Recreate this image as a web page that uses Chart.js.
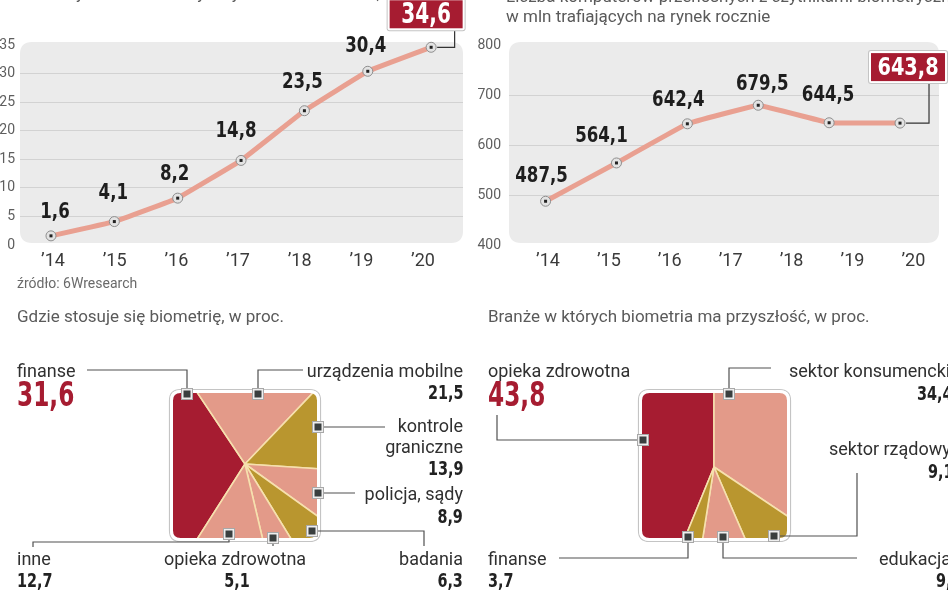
<!DOCTYPE html>
<html><head><meta charset="utf-8">
<script src="https://cdn.jsdelivr.net/npm/chart.js@4.4.0/dist/chart.umd.min.js"></script>
<style>
html,body{margin:0;padding:0;background:#fff;}
body{width:948px;height:593px;position:relative;overflow:hidden;font-family:Roboto,'Open Sans',sans-serif;}
canvas{position:absolute;}
.t{position:absolute;white-space:nowrap;line-height:19px;}
.title{font:400 17px Roboto,sans-serif;color:#5a5a5a;}
.src{font:400 14px Roboto,sans-serif;color:#6a6a6a;}
.name{font:400 18px Roboto,sans-serif;color:#303030;}
.num{font:bold 20px 'DejaVu Sans Condensed','DejaVu Sans',sans-serif;color:#222;line-height:24px;}
.big{font:bold 34px 'DejaVu Sans Condensed','DejaVu Sans',sans-serif;color:#a61c31;line-height:38px;}
</style></head><body>
<canvas id="c1" width="474" height="300" style="left:0;top:0;width:474px;height:300px"></canvas>
<canvas id="c2" width="474" height="300" style="left:474px;top:0;width:474px;height:300px"></canvas>
<canvas id="c3" width="474" height="293" style="left:0;top:300px;width:474px;height:293px"></canvas>
<canvas id="c4" width="474" height="293" style="left:474px;top:300px;width:474px;height:293px"></canvas>
<script>
// ---------- DATA ----------
const years = ['\u201914','\u201915','\u201916','\u201917','\u201918','\u201919','\u201920'];
const unitsSold = [1.6, 4.1, 8.2, 14.8, 23.5, 30.4, 34.6];
const unitsTicks = [0, 5, 10, 15, 20, 25, 30, 35];
const devicesShipped = [487.5, 564.1, 642.4, 679.5, 644.5, 643.8];
const devicesTicks = [400, 500, 600, 700, 800];

const useLabels = ['finanse', 'urządzenia mobilne', 'kontrole graniczne', 'policja, sądy', 'badania', 'opieka zdrowotna', 'inne'];
const useValues = [31.6, 21.5, 13.9, 8.9, 6.3, 5.1, 12.7];
const futureLabels = ['opieka zdrowotna', 'sektor konsumencki', 'sektor rządowy', 'edukacja', 'finanse'];
const futureValues = [43.8, 34.4, 9.1, 9.0, 3.7];

// ---------- STYLE ----------
const NARROW = "'DejaVu Sans Condensed','DejaVu Sans',sans-serif";
const RED = '#a61c31', SALMON = '#e39a89', GOLD = '#b9962f', CREAM = '#f6e0ae';
const useColors = [RED, SALMON, GOLD, SALMON, GOLD, SALMON, SALMON];
const futureColors = [RED, SALMON, GOLD, SALMON, GOLD];
const fmt = v => v.toFixed(1).replace('.', ',');

function rr(ctx, x, y, w, h, r) {
  ctx.beginPath();
  ctx.moveTo(x + r, y);
  ctx.lineTo(x + w - r, y); ctx.quadraticCurveTo(x + w, y, x + w, y + r);
  ctx.lineTo(x + w, y + h - r); ctx.quadraticCurveTo(x + w, y + h, x + w - r, y + h);
  ctx.lineTo(x + r, y + h); ctx.quadraticCurveTo(x, y + h, x, y + h - r);
  ctx.lineTo(x, y + r); ctx.quadraticCurveTo(x, y, x + r, y);
  ctx.closePath();
}
function narrowText(ctx, txt, x, y, sx) {
  ctx.save(); ctx.translate(x, y); ctx.scale(sx, 1); ctx.fillText(txt, 0, 0); ctx.restore();
}

// ---------- PLUGINS ----------
const panelBg = {
  id: 'panelBg',
  beforeDraw(chart) {
    const {ctx, chartArea: a} = chart;
    ctx.save();
    ctx.fillStyle = '#ebebeb';
    rr(ctx, a.left, a.top - 3, a.right - a.left, a.bottom - a.top + 1, 12);
    ctx.fill();
    ctx.restore();
  }
};

const pointLabels = {
  id: 'pointLabels',
  afterDatasetsDraw(chart, args, o) {
    const ctx = chart.ctx;
    const meta = chart.getDatasetMeta(0);
    const vals = chart.data.datasets[0].data;
    const n = meta.data.length;
    ctx.save();
    meta.data.forEach(p => { ctx.fillStyle = '#222'; ctx.fillRect(p.x - 1.5, p.y - 1.5, 3, 3); });
    ctx.font = 'bold 21px ' + NARROW;
    ctx.textAlign = 'center'; ctx.textBaseline = 'middle'; ctx.fillStyle = '#1e1e1e';
    for (let i = 0; i < n - 1; i++) {
      const p = meta.data[i]; const d = o.nudge[i];
      narrowText(ctx, fmt(vals[i].y), p.x + d[0], p.y + d[1], 0.88);
    }
    const p = meta.data[n - 1];
    const b = o.box; // [dx, dy, w, h, leadInset, fontSize, scaleX]
    const cx = p.x + b[0], cy = p.y + b[1], w = b[2], h = b[3];
    const lx = cx + w / 2 - b[4];
    ctx.strokeStyle = '#333'; ctx.lineWidth = 1.2;
    ctx.beginPath(); ctx.moveTo(lx, cy + h / 2); ctx.lineTo(lx, p.y); ctx.lineTo(p.x + 6, p.y); ctx.stroke();
    ctx.fillStyle = '#c4c4c4';
    rr(ctx, cx - w / 2 - 2, cy - h / 2 - 2, w + 4, h + 4, 3); ctx.fill();
    ctx.fillStyle = '#ffffff';
    rr(ctx, cx - w / 2 - 1, cy - h / 2 - 1, w + 2, h + 2, 2); ctx.fill();
    ctx.fillStyle = RED;
    ctx.fillRect(cx - w / 2 + 1, cy - h / 2 + 1, w - 2, h - 2);
    ctx.fillStyle = '#fff';
    ctx.font = 'bold ' + b[5] + 'px ' + NARROW;
    narrowText(ctx, fmt(vals[n - 1].y), cx, cy + 1, b[6]);
    ctx.restore();
  }
};

const squarePie = {
  id: 'squarePie',
  beforeDatasetsDraw(chart, args, o) {
    const ctx = chart.ctx; const s = o.sq;
    ctx.save();
    rr(ctx, s[0] - o.ox, s[1] - o.oy, s[2], s[3], s[4]);
    ctx.clip();
  },
  afterDatasetsDraw(chart, args, o) {
    const ctx = chart.ctx; const s = o.sq;
    ctx.restore();
    ctx.save();
    const x = s[0] - o.ox, y = s[1] - o.oy;
    ctx.strokeStyle = '#c4c4c4'; ctx.lineWidth = 1.2;
    rr(ctx, x - 2.5, y - 2.5, s[2] + 5, s[3] + 5, s[4] + 2); ctx.stroke();
    ctx.strokeStyle = '#ffffff'; ctx.lineWidth = 3;
    rr(ctx, x - 0.5, y - 0.5, s[2] + 1, s[3] + 1, s[4]); ctx.stroke();
    ctx.strokeStyle = '#505050'; ctx.lineWidth = 1.2;
    o.leaders.forEach(L => {
      ctx.beginPath();
      ctx.moveTo(L[0] - o.ox, L[1] - o.oy);
      for (let i = 2; i < L.length; i += 2) ctx.lineTo(L[i] - o.ox, L[i + 1] - o.oy);
      ctx.stroke();
    });
    o.markers.forEach(m => {
      const mx = m[0] - o.ox, my = m[1] - o.oy;
      ctx.fillStyle = '#a8a8a8'; ctx.fillRect(mx - 6, my - 6, 12, 12);
      ctx.fillStyle = '#eeeeee'; ctx.fillRect(mx - 5, my - 5, 10, 10);
      ctx.fillStyle = '#3a3f3f'; ctx.fillRect(mx - 3.5, my - 3.5, 7, 7);
    });
    ctx.restore();
  }
};

// ---------- LINE CHARTS ----------
function lineChart(id, values, ticksArr, xr, pr, yWidth, padRight, nudge, box) {
  const yMin = ticksArr[0], yMax = ticksArr[ticksArr.length - 1];
  return new Chart(document.getElementById(id), {
    type: 'line',
    data: {datasets: [{
      data: values.map((v, i) => ({x: i, y: v})),
      xAxisID: 'xp', yAxisID: 'y',
      borderColor: '#e9a091', borderWidth: 5, tension: 0.05, clip: false,
      pointRadius: 5, pointBackgroundColor: '#e3e3e3', pointBorderColor: '#8e8e8e', pointBorderWidth: 1
    }]},
    options: {
      responsive: false, animation: false, events: [],
      layout: {padding: {left: 0, right: padRight, top: 45, bottom: 0}},
      scales: {
        x: {type: 'linear', position: 'bottom', min: xr[0], max: xr[1], bounds: 'data',
          afterBuildTicks: s => { s.ticks = years.map((_, i) => ({value: i})); },
          afterFit: s => { s.height = 55; },
          grid: {display: false, drawTicks: false}, border: {display: false},
          ticks: {autoSkip: false, maxRotation: 0, padding: 6, color: '#3a3a3a',
            font: {family: 'Roboto', size: 18}, callback: v => years[v]}},
        xp: {type: 'linear', display: false, min: pr[0], max: pr[1]},
        y: {type: 'linear', min: yMin, max: yMax,
          afterBuildTicks: s => { s.ticks = ticksArr.map(v => ({value: v})); },
          afterFit: s => { s.width = yWidth; },
          grid: {drawTicks: false, lineWidth: 1,
            color: c => (c.tick && (c.tick.value === yMin || c.tick.value === yMax)) ? 'rgba(0,0,0,0)' : '#d2d2d2'},
          border: {display: false},
          ticks: {padding: yWidth === 20 ? 5 : 8, color: '#5e5e5e', font: {family: 'Roboto', size: 14}}}
      },
      plugins: {legend: {display: false}, tooltip: {enabled: false},
        pointLabels: {nudge: nudge, box: box}}
    },
    plugins: [panelBg, pointLabels]
  });
}

lineChart('c1', unitsSold, unitsTicks, [-0.535, 6.648], [-0.489, 6.503], 20, 11,
  [[4, -23], [-1, -28], [-3, -24], [-5, -29], [-2, -28], [-2, -25]],
  [-5, -33, 75, 30, 9, 29, 0.77]);
lineChart('c2', devicesShipped, devicesTicks, [-0.640, 6.421], [-0.516, 5.550], 35, 9,
  [[-4, -25], [-15, -26], [-9, -23], [4, -21], [-1, -27]],
  [8, -56, 76, 30, 17, 25, 0.86]);

// ---------- SQUARE PIES ----------
function squareChart(id, labels, values, colors, rotation, pad, opts) {
  return new Chart(document.getElementById(id), {
    type: 'pie',
    data: {labels: labels, datasets: [{data: values, backgroundColor: colors,
      borderColor: CREAM, borderWidth: 1.6, hoverOffset: 0}]},
    options: {responsive: false, animation: false, events: [], rotation: rotation, radius: 140,
      layout: {padding: pad},
      plugins: {legend: {display: false}, tooltip: {enabled: false}, squarePie: opts}},
    plugins: [squarePie]
  });
}

squareChart('c3', useLabels, useValues, useColors, 212.5, {left: 16, top: 35}, {
  ox: 0, oy: 300, sq: [172, 392, 146, 147, 9],
  leaders: [[87,370,187,370,187,394],[258,394,258,370,303,370],[318,427,385,427],[318,493,355,493],
            [312,531,424,531,424,546],[273,538,273,546],[229,534,229,542,33,542,33,547]],
  markers: [[187,394],[258,394],[318,427],[318,493],[312,531],[273,538],[229,534]]
});
squareChart('c4', futureLabels, futureValues, futureColors, 202.3, {left: 6, top: 41}, {
  ox: 474, oy: 300, sq: [641, 392, 147, 147, 9],
  leaders: [[497,415,497,440,643,440],[729,394,729,368,771,368],[774,536,857,536,857,473],
            [723,537,723,558,857,558],[688,537,688,558,559,558]],
  markers: [[643,440],[729,394],[774,536],[723,537],[688,537]]
});

// ---------- TEXT ----------
function addText(html, x, y, align, cls, sx) {
  const d = document.createElement('div');
  d.className = 't ' + cls;
  d.innerHTML = html;
  if (align === 'right') { d.style.right = (948 - x) + 'px'; d.style.textAlign = 'right'; }
  else d.style.left = x + 'px';
  if (align === 'center') d.style.textAlign = 'center';
  d.style.top = y + 'px';
  d.style.transformOrigin = (align === 'right' ? 'right' : align === 'center' ? 'center' : 'left') + ' center';
  d.style.transform = 'translate(' + (align === 'center' ? '-50%' : '0') + ',-50%)' + (sx ? ' scaleX(' + sx + ')' : '');
  document.body.appendChild(d);
}
addText('Liczba czytników biometrycznych w smartfonach, w mln', 5, -7, 'left', 'title');
addText('Liczba komputerów przenośnych z czytnikami biometrycznymi,', 506, -4, 'left', 'title');
addText('w mln trafiających na rynek rocznie', 506, 16, 'left', 'title');
addText('źródło: 6Wresearch', 17, 283, 'left', 'src');
addText('Gdzie stosuje się biometrię, w proc.', 17, 316, 'left', 'title');
addText('Branże w których biometria ma przyszłość, w proc.', 488, 316, 'left', 'title');

// layout: [nameX, nameY, valueX, valueY, align, bigValue, wrapName]
const useLayout = [
  [17, 370, 17, 394, 'left', true, false],
  [463, 370, 463, 392, 'right', false, false],
  [463, 436, 463, 468, 'right', false, true],
  [463, 493, 463, 516, 'right', false, false],
  [463, 558, 463, 580, 'right', false, false],
  [235, 558, 237, 580, 'center', false, false],
  [17, 558, 17, 580, 'left', false, false]
];
const futureLayout = [
  [488, 370, 488, 394, 'left', true, false],
  [789, 370, 917, 393, 'left', false, false],
  [829, 448, 928, 471, 'left', false, false],
  [879, 558, 936, 580, 'left', false, false],
  [488, 558, 488, 580, 'left', false, false]
];
function placeLabels(labels, values, layout) {
  labels.forEach((lab, i) => {
    const L = layout[i];
    addText(L[6] ? lab.replace(' ', '<br>') : lab, L[0], L[1], L[4], 'name');
    addText(fmt(values[i]), L[2], L[3], L[4], L[5] ? 'big' : 'num', L[5] ? 0.76 : 0.8);
  });
}
placeLabels(useLabels, useValues, useLayout);
placeLabels(futureLabels, futureValues, futureLayout);
</script>
</body></html>
